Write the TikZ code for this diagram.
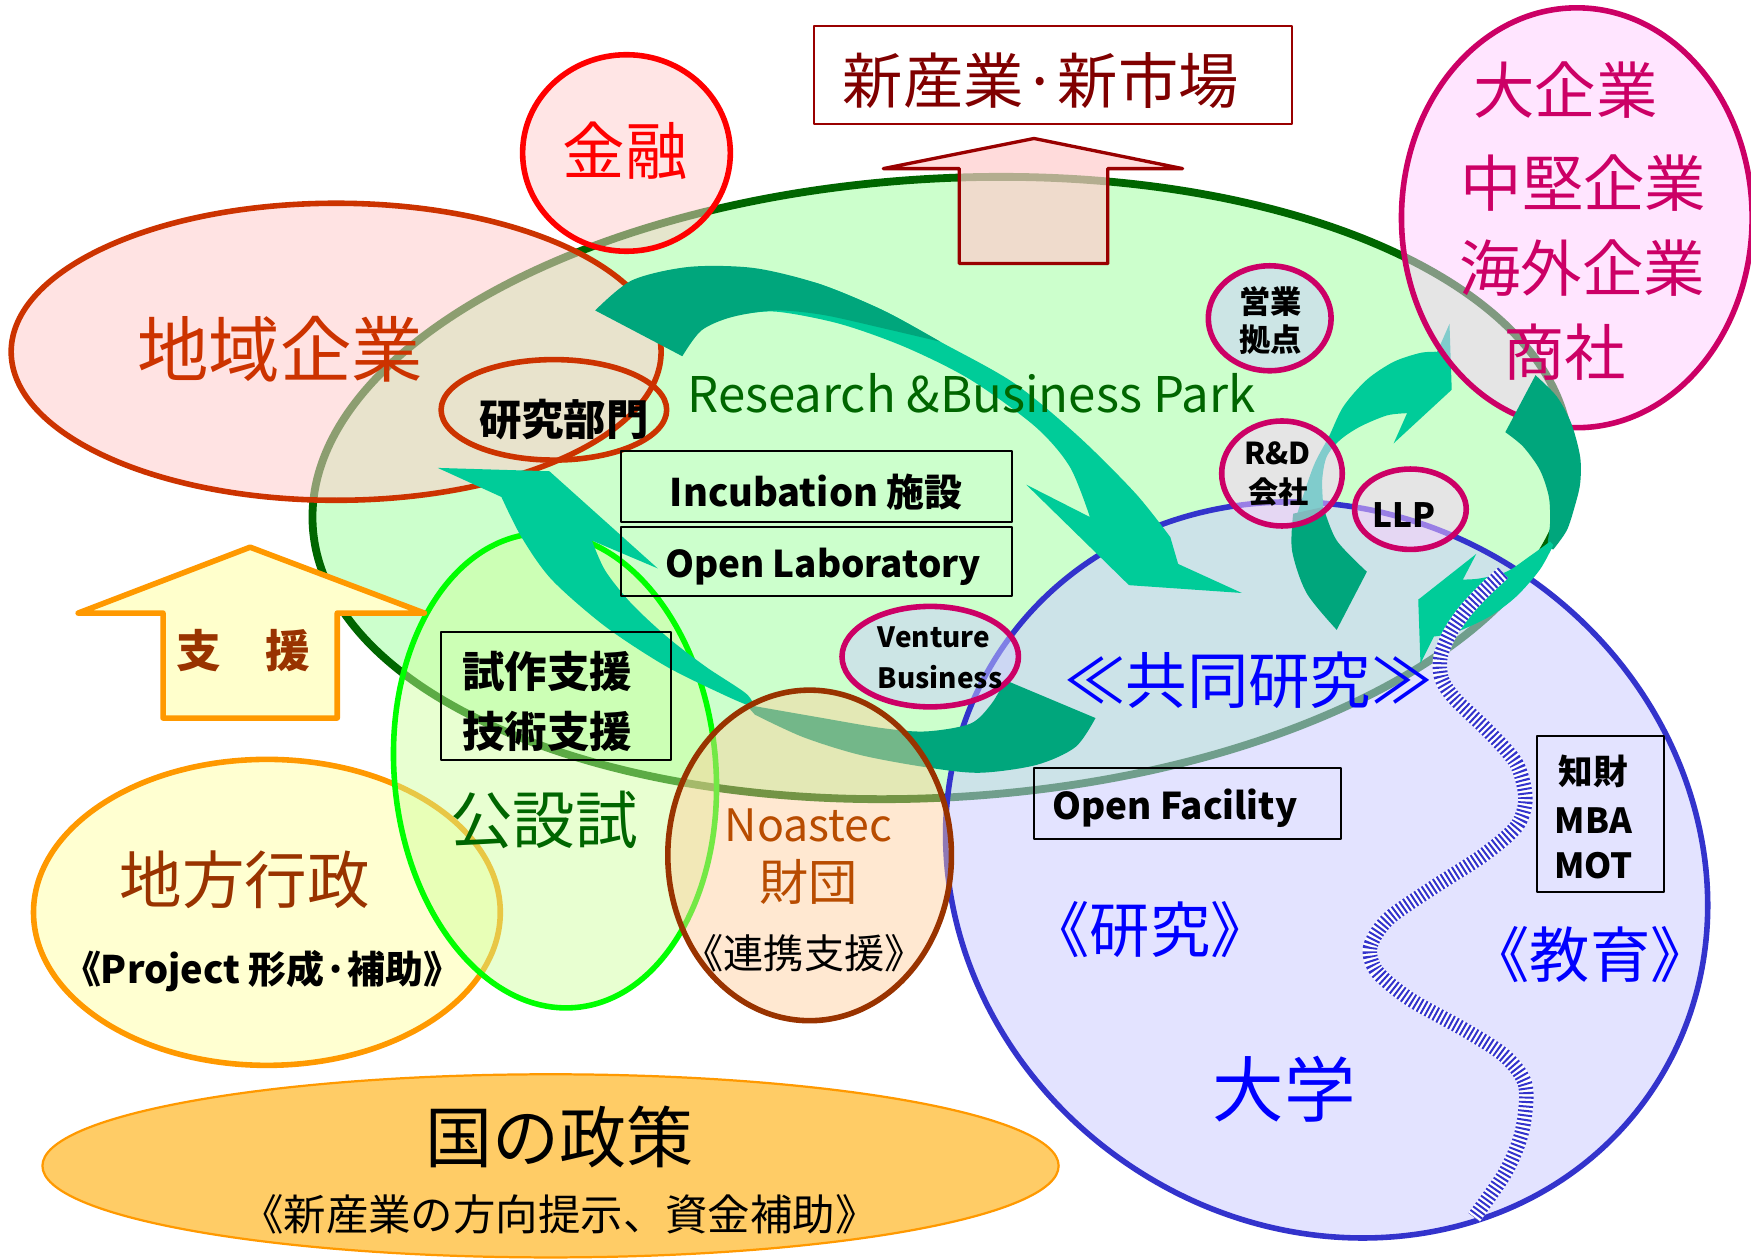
\documentclass[tikz,border=0pt]{standalone}
\usepackage{fontspec}
\setmainfont{Noto Sans CJK JP}
\newcommand{\fz}[1]{\fontsize{#1}{#1}\selectfont}
\definecolor{parkfill}{HTML}{CCFFCC}
\definecolor{parkline}{HTML}{006600}
\definecolor{univfill}{HTML}{CCCCFF}
\definecolor{univline}{HTML}{3333CC}
\definecolor{policyfill}{HTML}{FFCC66}
\definecolor{orangeline}{HTML}{FF9900}
\definecolor{yellowfill}{HTML}{FFFFCC}
\definecolor{chiiki}{HTML}{CC3300}
\definecolor{pinkfill}{HTML}{FFCCCC}
\definecolor{kinred}{HTML}{FF0000}
\definecolor{kouline}{HTML}{00FF00}
\definecolor{koufill}{HTML}{CCFF99}
\definecolor{noaline}{HTML}{993300}
\definecolor{noafill}{HTML}{FFCC99}
\definecolor{noatext}{HTML}{B84C00}
\definecolor{magline}{HTML}{CC0066}
\definecolor{magfill}{HTML}{FFCCFF}
\definecolor{lavfill}{HTML}{CCCCFF}
\definecolor{arrL}{HTML}{00CC99}
\definecolor{arrD}{HTML}{00A67C}
\definecolor{darkred}{HTML}{990000}
\definecolor{marketred}{HTML}{800000}
\definecolor{brown}{HTML}{993300}
\definecolor{pure blue}{HTML}{0000FF}
\begin{document}
\begin{tikzpicture}[x=1pt,y=-1pt,line join=round,
  rim/.style={line width=5},
  framebox/.style={draw=black,line width=1.8},
  lbl/.style={inner sep=0pt},
  arrlight/.style={fill=arrL},
  arrdark/.style={fill=arrD}]
\useasboundingbox (0,0) rectangle (1568,1127);
\fill[white] (0,0) rectangle (1568,1127);

% Research & Business Park
\draw[line width=7,draw=parkline,fill=parkfill,rotate around={3.5:(843,437)}] (843,437) ellipse [x radius=564,y radius=277];
% University
\draw[rim,draw=univline,fill=univfill,fill opacity=0.55,rotate around={-35:(1188,779)}] (1188,779) ellipse [x radius=352,y radius=318];
% national policy
\draw[line width=2,draw=orangeline,fill=policyfill] (493,1044) ellipse [x radius=455,y radius=82];
% local government
\draw[rim,draw=orangeline,fill=yellowfill,fill opacity=0.9] (239,817) ellipse [x radius=209,y radius=137];
% regional companies
\draw[rim,draw=chiiki,fill=pinkfill,fill opacity=0.55] (301,315) ellipse [x radius=291,y radius=133];
\draw[rim,draw=chiiki] (496,367) ellipse [x radius=101,y radius=45];
% finance
\draw[rim,draw=kinred,fill=pinkfill,fill opacity=0.5] (561,137) ellipse [x radius=93,y radius=88];
% public test institute
\draw[rim,draw=kouline,fill=koufill,fill opacity=0.45,rotate around={5:(497,690)}] (497,690) ellipse [x radius=144,y radius=213];
% support arrow
\draw[rim,draw=orangeline,fill=yellowfill] (146,643) -- (146,549) -- (70,549) -- (224,490) -- (380,549) -- (302,549) -- (302,643) -- cycle;

% arrow a
\fill[arrlight] plot[smooth] coordinates {(655,283) (694,279) (752,290) (811,311) (869,340) (927,382) (958,418) (976,463)} -- (919,434) -- (1011,524) -- (1112,531) -- (1055,505) -- plot[smooth] coordinates {(1048,481) (1017,442) (966,391) (908,343) (842,306) (791,278) (733,254) (690,246)} -- cycle;
\fill[arrdark] plot[smooth] coordinates {(533,278) (566,251) (617,239) (675,240) (733,254) (791,278) (842,306)} -- plot[smooth] coordinates {(842,306) (791,294) (737,282) (694,278) (655,284) (628,296) (611,319)} -- cycle;
% arrow b
\fill[arrlight] (392,419) -- (492,422) -- (589,509) -- (530,484) -- plot[smooth] coordinates {(530,484) (542,511) (565,540) (597,570) (632,597) (668,621) (676,634)} -- plot[smooth] coordinates {(676,634) (652,624) (597,597) (542,561) (494,519) (467,481) (449,445)} -- cycle;
\fill[arrdark] plot[smooth] coordinates {(668,631) (731,642) (790,652) (829,655) (869,648) (888,630) (900,609)} -- (981,643) -- plot[smooth] coordinates {(981,643) (963,669) (928,685) (877,692) (829,687) (770,676) (719,660) (676,640)} -- cycle;
% arrow c
\fill[arrlight] plot[smooth] coordinates {(1160,465) (1176,418) (1190,391) (1203,364) (1224,340) (1248,324) (1272,316) (1287,315)} -- (1298,290) -- (1300,349) -- (1248,397) -- (1260,370) -- plot[smooth] coordinates {(1260,370) (1242,372) (1218,382) (1200,394) (1188,409) (1184,430) (1185,454)} -- cycle;
\fill[arrdark] plot[smooth] coordinates {(1158,460) (1157,493) (1170,531) (1197,564)} -- (1224,512) -- plot[smooth] coordinates {(1224,512) (1197,484) (1185,454)} -- cycle;

% Noastec foundation
\draw[rim,draw=noaline,fill=noafill,fill opacity=0.45] (725,766) ellipse [x radius=127,y radius=148];
% large companies
\draw[rim,draw=magline,fill=magfill,fill opacity=0.5] (1412,195) ellipse [x radius=157,y radius=188];
% small circles
\draw[rim,draw=magline,fill=lavfill,fill opacity=0.5] (1137,285) ellipse [x radius=55,y radius=47];
\draw[rim,draw=magline,fill=magfill,fill opacity=0.5] (1148,424) ellipse [x radius=54,y radius=47];
\draw[rim,draw=magline,fill=magfill,fill opacity=0.5] (1263,456) ellipse [x radius=50,y radius=36];
\draw[rim,draw=magline,fill=lavfill,fill opacity=0.5] (833,588) ellipse [x radius=79,y radius=45];

% arrow d
\fill[arrdark] plot[smooth] coordinates {(1375,336) (1394,355) (1407,379) (1415,409) (1415,433) (1410,454) (1403,475) (1391,492)} -- plot[smooth] coordinates {(1391,492) (1386,488) (1388,469) (1387,445) (1379,421) (1364,400) (1348,387)} -- cycle;
\fill[arrlight] plot[smooth] coordinates {(1391,488) (1379,510) (1358,534) (1334,552) (1304,566) (1284,570)} -- (1272,594) -- (1270,537) -- (1322,496) -- (1310,519) -- plot[smooth] coordinates {(1310,519) (1325,518) (1349,512) (1370,498) (1388,485)} -- cycle;

% striped band
\draw[line width=13,draw=white] plot[smooth] coordinates {(1346,513) (1331,527) (1313,546) (1299,566) (1290,588) (1291,608) (1303,626) (1333,655) (1358,684) (1366,715) (1358,740) (1328,766) (1283,795) (1243,823) (1227,848) (1233,870) (1263,895) (1313,923) (1348,946) (1366,972) (1363,1013) (1348,1050) (1320,1090)};
\draw[line width=13,draw=univline,dash pattern=on 1.8pt off 2.2pt] plot[smooth] coordinates {(1346,513) (1331,527) (1313,546) (1299,566) (1290,588) (1291,608) (1303,626) (1333,655) (1358,684) (1366,715) (1358,740) (1328,766) (1283,795) (1243,823) (1227,848) (1233,870) (1263,895) (1313,923) (1348,946) (1366,972) (1363,1013) (1348,1050) (1320,1090)};

% market arrow
\draw[line width=3,draw=darkred,fill=pinkfill,fill opacity=0.7] (859,236) -- (859,151) -- (791,151) -- (926,124) -- (1059,151) -- (992,151) -- (992,236) -- cycle;
\draw[line width=2,draw=darkred] (729,23) rectangle (1157,111);

% boxes
\draw[framebox] (556,404) rectangle (906,467);
\draw[framebox] (556,472) rectangle (906,534);
\draw[framebox] (395,566) rectangle (601,681);
\draw[framebox] (926,688) rectangle (1201,751);
\draw[framebox] (1376,659) rectangle (1490,799);

% texts
\node[lbl,text=marketred,font=\fz{54}] (market) at (932,72) {新産業·新市場};
\node[lbl,text=kinred,font=\fz{56}] (kinyu) at (560,135) {金融};
\node[lbl,text=chiiki,font=\fz{64}] (chiikit) at (251,313) {地域企業};
\node[lbl,font=\fz{38}\bfseries] (kenkyubu) at (505,376) {研究部門};
\node[lbl,text=parkline,font=\fz{44}] (park) at (870,352) {Research \&Business Park};
\node[lbl,font=\fz{34}\bfseries] (incub) at (731,441) {Incubation 施設};
\node[lbl,font=\fz{33}\bfseries] (openlab) at (737,508) {Open Laboratory};
\node[lbl,font=\fz{28}\bfseries] (eigyo1) at (1138,270) {営業};
\node[lbl,font=\fz{28}\bfseries] (eigyo2) at (1138,304) {拠点};
\node[lbl,font=\fz{27}\bfseries] (rd1) at (1144,406) {R\&D};
\node[lbl,font=\fz{27}\bfseries] (rd2) at (1145,441) {会社};
\node[lbl,font=\fz{30}\bfseries] (llp) at (1257,461) {LLP};
\node[lbl,font=\fz{25}\bfseries,anchor=west] (vent1) at (786,571) {Venture};
\node[lbl,font=\fz{25}\bfseries,anchor=west] (vent2) at (786,606) {Business};
\node[lbl,text=magline,font=\fz{55}] (dai1) at (1402,81) {大企業};
\node[lbl,text=magline,font=\fz{55}] (dai2) at (1418,164) {中堅企業};
\node[lbl,text=magline,font=\fz{55}] (dai3) at (1417,240) {海外企業};
\node[lbl,text=magline,font=\fz{55}] (dai4) at (1401,315) {商社};
\node[lbl,text=brown,font=\fz{40}\bfseries] (shien) at (218,583) {支　援};
\node[lbl,font=\fz{38}\bfseries] (shisaku) at (490,601) {試作支援};
\node[lbl,font=\fz{38}\bfseries] (gijutsu) at (490,655) {技術支援};
\node[lbl,text=parkline,font=\fz{56}] (kousetsu) at (487,734) {公設試};
\node[lbl,text=brown,font=\fz{56}] (chiho) at (219,788) {地方行政};
\node[lbl,font=\fz{34}\bfseries] (project) at (235,870) {《Project 形成·補助》};
\node[lbl,text=noatext,font=\fz{40}] (noastec) at (724,739) {Noastec};
\node[lbl,text=noatext,font=\fz{44}] (zaidan) at (724,790) {財団};
\node[lbl,font=\fz{36}] (renkei) at (720,854) {《連携支援》};
\node[lbl,text=pure blue,font=\fz{55}] (kyodo) at (1118,609) {≪共同研究≫};
\node[lbl,font=\fz{33}\bfseries] (openfac) at (1052,724) {Open Facility};
\node[lbl,font=\fz{31}\bfseries] (chizai) at (1427,691) {知財};
\node[lbl,font=\fz{31}\bfseries] (mba) at (1427,735) {MBA};
\node[lbl,font=\fz{31}\bfseries] (mot) at (1427,775) {MOT};
\node[lbl,text=pure blue,font=\fz{54}] (kenkyu) at (1030,832) {《研究》};
\node[lbl,text=pure blue,font=\fz{54}] (kyoiku) at (1424,855) {《教育》};
\node[lbl,text=pure blue,font=\fz{64}] (daigaku) at (1150,975) {大学};
\node[lbl,font=\fz{60}] (kuni) at (501,1018) {国の政策};
\node[lbl,font=\fz{38}] (kunisub) at (501,1087) {《新産業の方向提示、資金補助》};
\end{tikzpicture}
\end{document}
